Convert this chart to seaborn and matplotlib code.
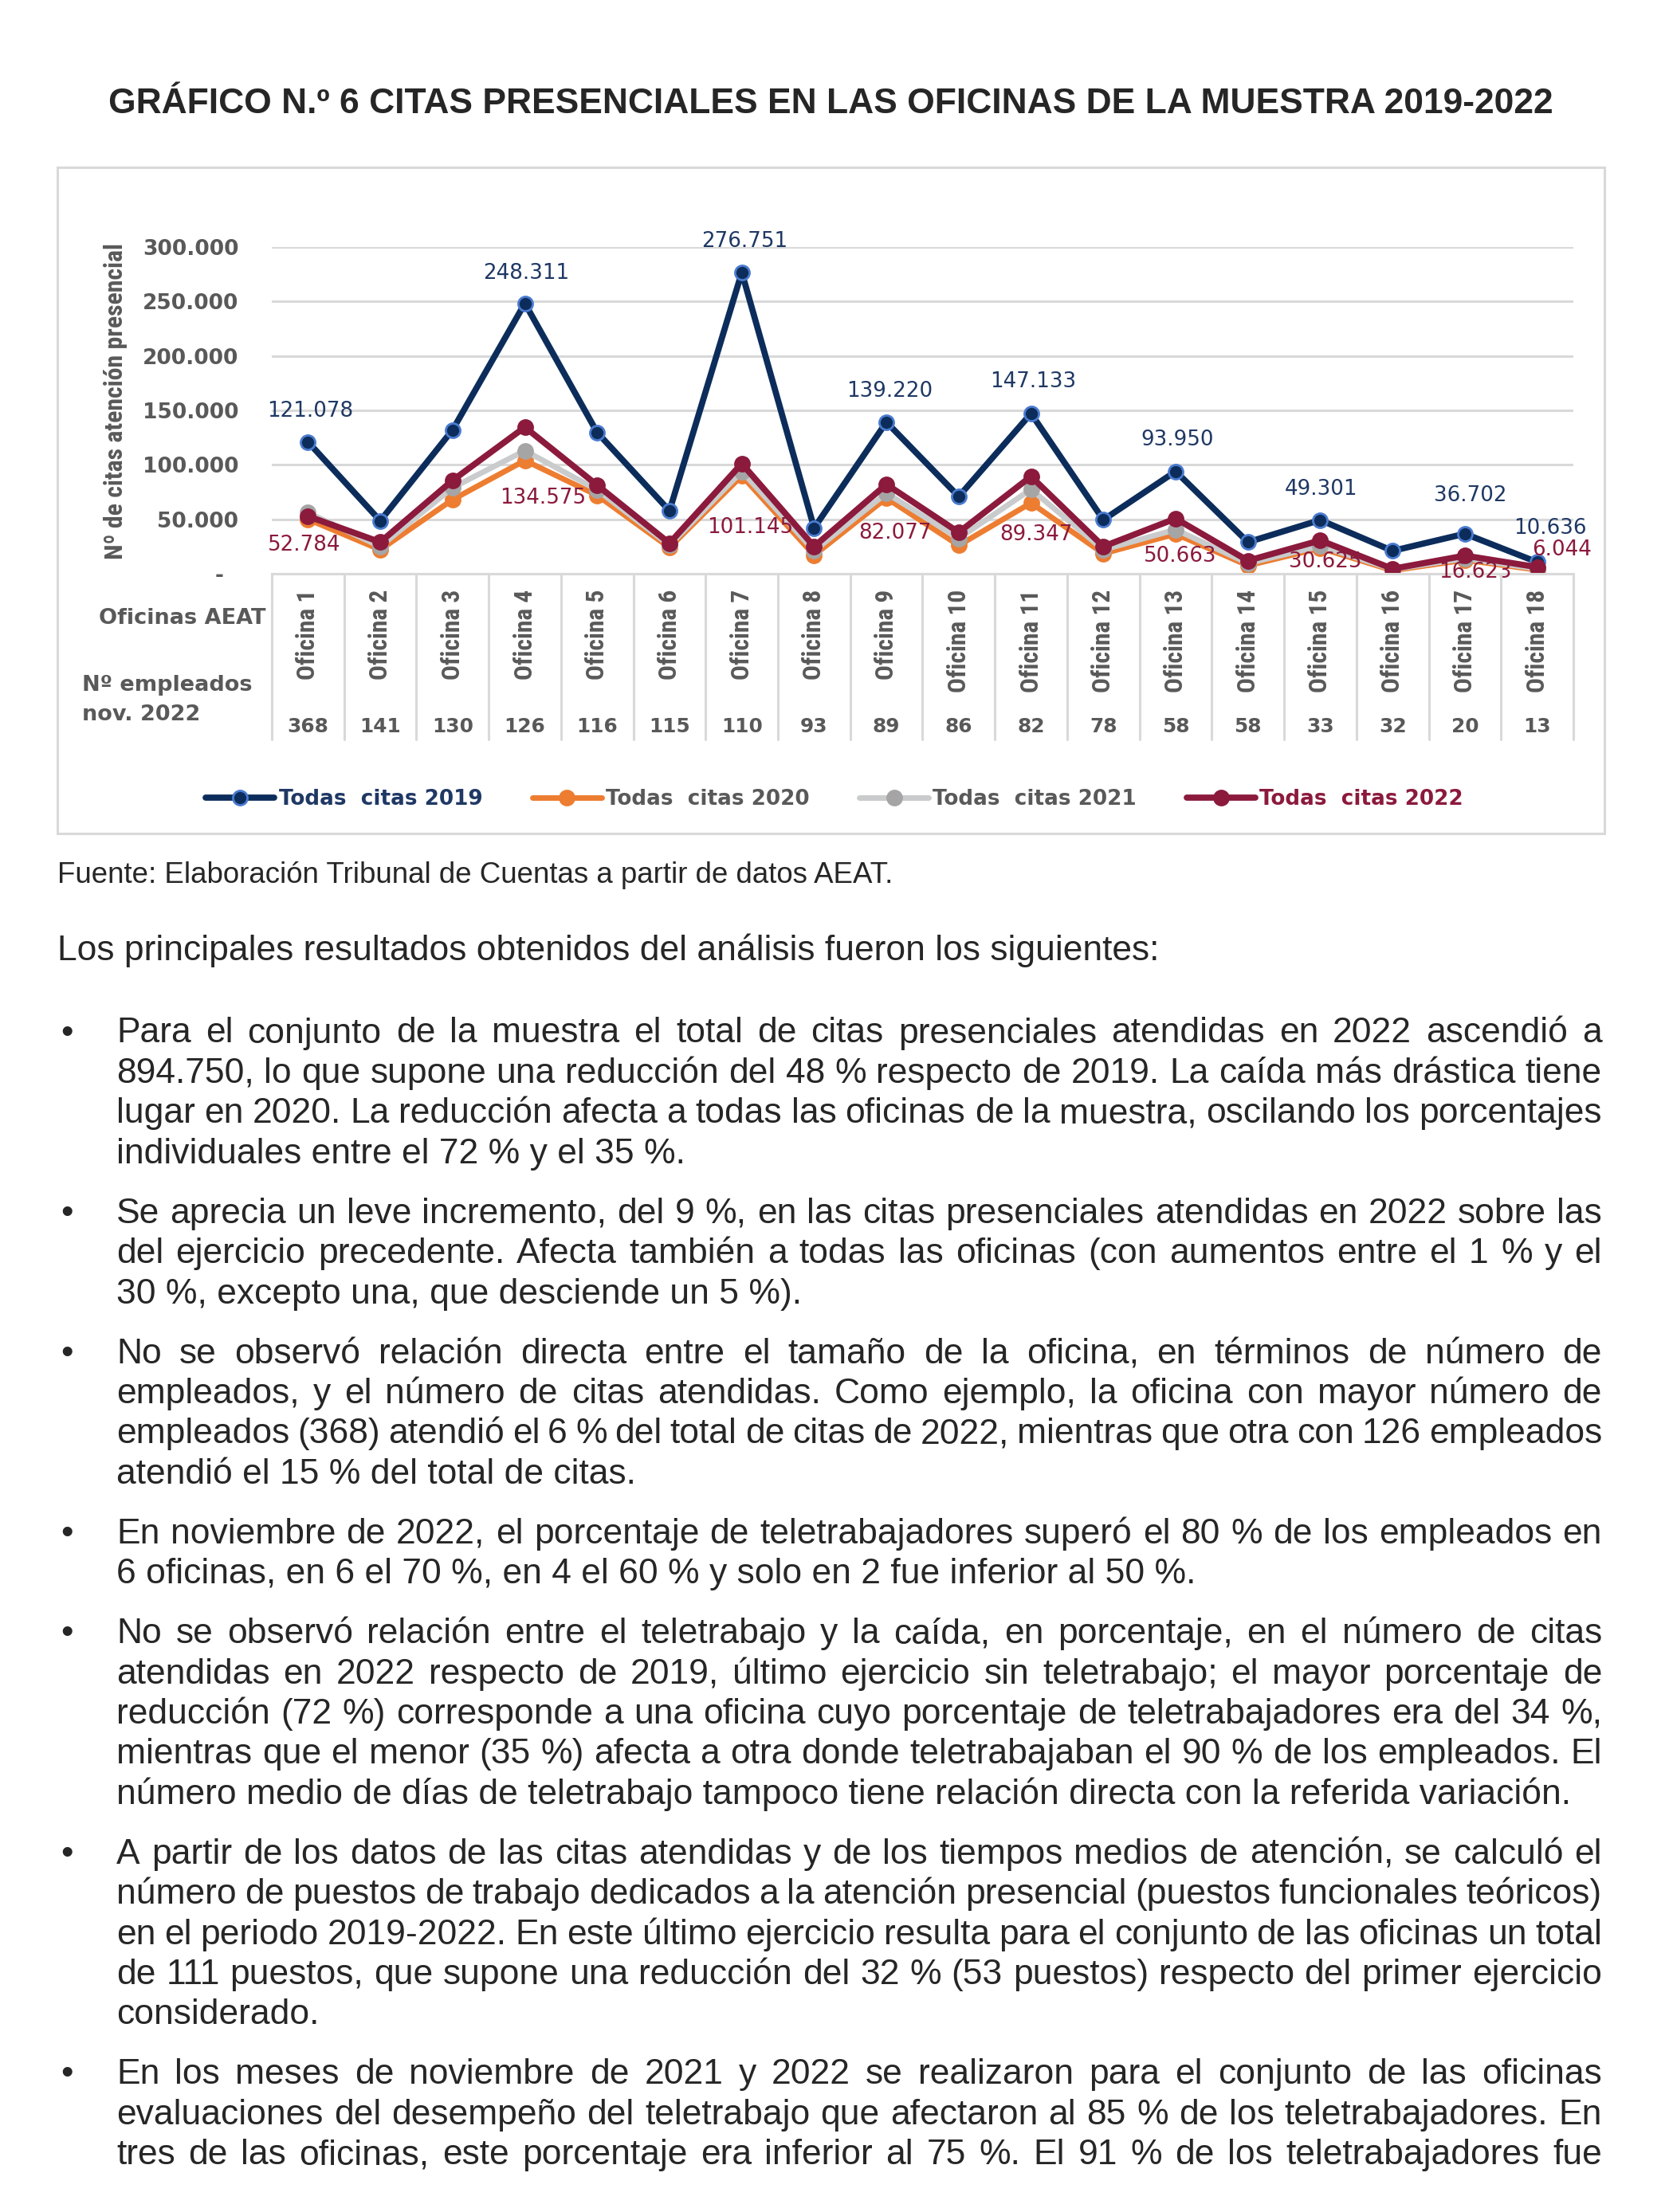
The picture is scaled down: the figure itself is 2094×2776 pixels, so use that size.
import matplotlib
matplotlib.use('Agg')
import matplotlib.pyplot as plt
import matplotlib.transforms as mtransforms
from matplotlib import font_manager
from matplotlib.patches import Rectangle
from matplotlib.lines import Line2D
import seaborn as sns

W, H = 2094, 2776

########################################################################
#                                 Data                                 #
########################################################################
oficinas = ['Oficina 1', 'Oficina 2', 'Oficina 3', 'Oficina 4', 'Oficina 5', 'Oficina 6',
            'Oficina 7', 'Oficina 8', 'Oficina 9', 'Oficina 10', 'Oficina 11', 'Oficina 12',
            'Oficina 13', 'Oficina 14', 'Oficina 15', 'Oficina 16', 'Oficina 17', 'Oficina 18']
empleados = [368, 141, 130, 126, 116, 115, 110, 93, 89, 86, 82, 78, 58, 58, 33, 32, 20, 13]

citas_2019 = [121078, 48600, 132000, 248311, 129700, 57800, 276751, 42000, 139220,
              70900, 147133, 49500, 93950, 29000, 49301, 21000, 36702, 10636]
citas_2020 = [50000, 22000, 68000, 104000, 72000, 24000, 90000, 17000, 69500,
              26000, 65000, 18500, 36500, 7500, 23500, 3000, 12600, 3500]
citas_2021 = [56000, 25000, 79000, 113000, 77000, 26000, 94000, 21000, 74000,
              32500, 77500, 22000, 40500, 9500, 25500, 4000, 14000, 4500]
citas_2022 = [52784, 29000, 85700, 134575, 81300, 28000, 101145, 25000, 82077,
              38000, 89347, 25000, 50663, 12000, 30625, 4500, 16623, 6044]

# offices carrying a data label
con_etiqueta = [0, 3, 6, 8, 10, 12, 14, 16, 17]

series = ['Todas  citas 2019', 'Todas  citas 2020', 'Todas  citas 2021', 'Todas  citas 2022']
ticks_y = [0, 50000, 100000, 150000, 200000, 250000, 300000]
ticks_y_txt = ['-  ', '50.000', '100.000', '150.000', '200.000', '250.000', '300.000']

titulo = 'GRÁFICO N.º 6 CITAS PRESENCIALES EN LAS OFICINAS DE LA MUESTRA 2019-2022'
fuente = 'Fuente: Elaboración Tribunal de Cuentas a partir de datos AEAT.'
intro = 'Los principales resultados obtenidos del análisis fueron los siguientes:'
parrafos = [
    ['Para el conjunto de la muestra el total de citas presenciales atendidas en 2022 ascendió a',
     '894.750, lo que supone una reducción del 48 % respecto de 2019. La caída más drástica tiene',
     'lugar en 2020. La reducción afecta a todas las oficinas de la muestra, oscilando los porcentajes',
     'individuales entre el 72 % y el 35 %.'],
    ['Se aprecia un leve incremento, del 9 %, en las citas presenciales atendidas en 2022 sobre las',
     'del ejercicio precedente. Afecta también a todas las oficinas (con aumentos entre el 1 % y el',
     '30 %, excepto una, que desciende un 5 %).'],
    ['No se observó relación directa entre el tamaño de la oficina, en términos de número de',
     'empleados, y el número de citas atendidas. Como ejemplo, la oficina con mayor número de',
     'empleados (368) atendió el 6 % del total de citas de 2022, mientras que otra con 126 empleados',
     'atendió el 15 % del total de citas.'],
    ['En noviembre de 2022, el porcentaje de teletrabajadores superó el 80 % de los empleados en',
     '6 oficinas, en 6 el 70 %, en 4 el 60 % y solo en 2 fue inferior al 50 %.'],
    ['No se observó relación entre el teletrabajo y la caída, en porcentaje, en el número de citas',
     'atendidas en 2022 respecto de 2019, último ejercicio sin teletrabajo; el mayor porcentaje de',
     'reducción (72 %) corresponde a una oficina cuyo porcentaje de teletrabajadores era del 34 %,',
     'mientras que el menor (35 %) afecta a otra donde teletrabajaban el 90 % de los empleados. El',
     'número medio de días de teletrabajo tampoco tiene relación directa con la referida variación.'],
    ['A partir de los datos de las citas atendidas y de los tiempos medios de atención, se calculó el',
     'número de puestos de trabajo dedicados a la atención presencial (puestos funcionales teóricos)',
     'en el periodo 2019-2022. En este último ejercicio resulta para el conjunto de las oficinas un total',
     'de 111 puestos, que supone una reducción del 32 % (53 puestos) respecto del primer ejercicio',
     'considerado.'],
    ['En los meses de noviembre de 2021 y 2022 se realizaron para el conjunto de las oficinas',
     'evaluaciones del desempeño del teletrabajo que afectaron al 85 % de los teletrabajadores. En',
     'tres de las oficinas, este porcentaje era inferior al 75 %. El 91 % de los teletrabajadores fue'],
]

########################################################################
#                                Styles                                #
########################################################################
NAVY, NAVY_EDGE, NAVY_TXT = '#0c2d5b', '#4a7bd0', '#1f3864'
ORANGE = '#ed7d31'
GRAY_LINE, GRAY_MK = '#c9cbcc', '#a5a5a5'
MAROON = '#8b1a3d'
TXT = '#595959'
GRID = '#d9d9d9'
BODY = ['Liberation Sans', 'DejaVu Sans']

sns.set_style('white')
plt.rcParams['font.family'] = ['DejaVu Sans']


def narrow_font():
    fl = font_manager.fontManager.ttflist
    names = {f.name for f in fl}
    for n in ['DejaVu Sans Condensed', 'Liberation Sans Narrow', 'Roboto Condensed', 'Open Sans Condensed']:
        if n in names:
            return {'family': n}
    for fam in ['DejaVu Sans', 'Liberation Sans', 'Roboto', 'Open Sans']:
        for f in fl:
            if f.name == fam and f.stretch in ('condensed', 'semi-condensed'):
                return {'family': fam, 'fontstretch': f.stretch}
    return {'family': 'DejaVu Sans'}


NARROW = narrow_font()

fig = plt.figure(figsize=(W / 100, H / 100), dpi=100)
renderer = fig.canvas.get_renderer()


def fx(x):
    return x / W


def fy(y):
    return 1 - y / H


def size_for(s, target, rotation=0, **kw):
    t = fig.text(0, 0, s, fontsize=20, rotation=rotation, **kw)
    bb = t.get_window_extent(renderer)
    t.remove()
    return 20 * target / (bb.height if rotation else bb.width)


########################################################################
#                                Chart                                 #
########################################################################
fig.text(fx(1042), fy(142), titulo, ha='center', va='baseline', family=BODY, weight='bold',
         fontsize=size_for(titulo, 1811, family=BODY, weight='bold'))

fig.add_artist(Rectangle((fx(72), fy(1046)), (2013 - 72) / W, (1046 - 210) / H,
                         transform=fig.transFigure, fill=False, edgecolor=GRID, lw=2.2))

ax = fig.add_axes([fx(341), fy(720), (1974 - 341) / W, (720 - 310) / H])

estilo = [
    (citas_2019, NAVY, NAVY, NAVY_EDGE, 5.6),
    (citas_2020, ORANGE, ORANGE, ORANGE, 5.0),
    (citas_2021, GRAY_LINE, GRAY_MK, GRAY_MK, 5.0),
    (citas_2022, MAROON, MAROON, MAROON, 5.6),
]
handles = []
for valores, c_line, c_mk, c_edge, lw in estilo:
    sns.lineplot(x=oficinas, y=valores, sort=False, color=c_line, lw=lw, marker='o',
                 markersize=13, markerfacecolor=c_mk, markeredgecolor=c_edge,
                 markeredgewidth=2, ax=ax)
    handles.append(ax.lines[-1])

ax.set_xlim(-0.5, len(oficinas) - 0.5)
ax.set_ylim(0, 300000)
ax.set_yticks(ticks_y)
ax.set_yticklabels(ticks_y_txt, color=TXT, weight='bold',
                   fontsize=size_for('300.000', 121, weight='bold'))
ax.tick_params(axis='y', length=0, pad=30)
ax.yaxis.grid(True, color=GRID, lw=2.2)
ax.set_axisbelow(True)
for side in ['top', 'right', 'left']:
    ax.spines[side].set_visible(False)
ax.spines['bottom'].set_color(GRID)
ax.spines['bottom'].set_linewidth(2.2)

of_size = size_for('Oficina 1', 113, rotation=90, weight='bold', **NARROW)
ax.set_xticks(range(len(oficinas)))
ax.set_xticklabels(oficinas, rotation=90, fontsize=of_size, weight='bold', color=TXT, **NARROW)
ax.tick_params(axis='x', length=0, pad=14)

# data labels
lab_size = size_for('121.078', 108)
off_2019 = [(3, 39), (2, 38), (3, 39), (4, 39), (3, 40), (2, 40), (1, 39), (7, 48), (16, 42)]
off_2022 = [(-5, -36), (23, -89), (10, -80), (11, -61), (6, -73), (6, -47), (6, -27), (13, -21), (31, 22)]
for i, d in zip(con_etiqueta, off_2019):
    ax.annotate(f'{citas_2019[i]:,}'.replace(',', '.'), (i, citas_2019[i]), xytext=d,
                textcoords='offset pixels', ha='center', va='center', color=NAVY_TXT, fontsize=lab_size)
for i, d in zip(con_etiqueta, off_2022):
    ax.annotate(f'{citas_2022[i]:,}'.replace(',', '.'), (i, citas_2022[i]), xytext=d,
                textcoords='offset pixels', ha='center', va='center', color=MAROON, fontsize=lab_size)

# category table below the axis
trans = mtransforms.blended_transform_factory(ax.transData, fig.transFigure)
for k in range(len(oficinas) + 1):
    fig.add_artist(Line2D([k - 0.5, k - 0.5], [fy(720), fy(928)], transform=trans, color=GRID, lw=2.2))
num_size = size_for('368', 52, weight='bold')
for i, n in enumerate(empleados):
    ax.text(i, fy(912), str(n), transform=trans, ha='center', va='center', color=TXT,
            weight='bold', fontsize=num_size)

row_size = size_for('Oficinas AEAT', 210, weight='bold')
fig.text(fx(334), fy(776), 'Oficinas AEAT', ha='right', va='center', color=TXT, weight='bold', fontsize=row_size)
fig.text(fx(103), fy(860), 'Nº empleados', ha='left', va='center', color=TXT, weight='bold', fontsize=row_size)
fig.text(fx(103), fy(897), 'nov. 2022', ha='left', va='center', color=TXT, weight='bold', fontsize=row_size)

ylab = 'Nº de citas atención presencial'
fig.text(fx(145), fy(503), ylab, rotation=90, ha='center', va='center', weight='bold', color=TXT,
         fontsize=size_for(ylab, 397, rotation=90, weight='bold', **NARROW), **NARROW)

leg = ax.legend(handles, series, ncol=4, loc='center', bbox_to_anchor=(fx(1047), fy(1003)),
                bbox_transform=fig.transFigure, frameon=False, handlelength=3.3, handletextpad=0.2,
                columnspacing=2.4,
                prop={'family': 'DejaVu Sans', 'weight': 'bold',
                      'size': size_for(series[0], 255, weight='bold')})
for t, c in zip(leg.get_texts(), [NAVY_TXT, TXT, TXT, MAROON]):
    t.set_color(c)

########################################################################
#                              Body text                               #
########################################################################
fig.text(fx(72), fy(1108), fuente, va='baseline', family=BODY, fontsize=size_for(fuente, 1047, family=BODY))
bs = size_for(intro, 1377, family=BODY)
fig.text(fx(72), fy(1205), intro, va='baseline', family=BODY, fontsize=bs)

X0, X1 = 146, 2010


def put_line(line, y, justify):
    if not justify:
        fig.text(fx(X0), fy(y), line, va='baseline', family=BODY, fontsize=bs)
        return
    words = line.split()
    ts = [fig.text(0, fy(y), w, va='baseline', family=BODY, fontsize=bs) for w in words]
    ws = [t.get_window_extent(renderer).width for t in ts]
    gap = (X1 - X0 - sum(ws)) / (len(ws) - 1)
    x = X0
    for t, w in zip(ts, ws):
        t.set_x(fx(x))
        x += w + gap


y = 1308.5
for p, lineas in enumerate(parrafos):
    fig.text(fx(84), fy(y), '•', ha='center', va='baseline', family=BODY, fontsize=bs)
    for j, linea in enumerate(lineas):
        ultima = j == len(lineas) - 1 and p < len(parrafos) - 1
        put_line(linea, y, not ultima)
        y += 50.4
    y += 75 - 50.4

fig.savefig('out.png', dpi=100, facecolor='white')
